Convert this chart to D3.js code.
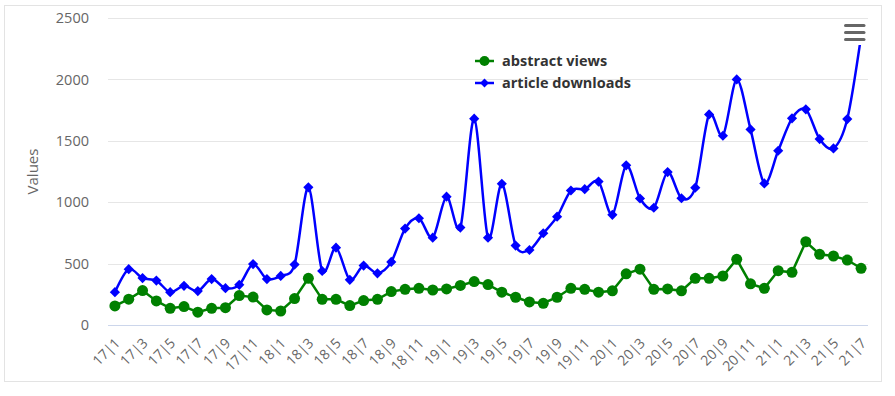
<!DOCTYPE html>
<html>
<head>
<meta charset="utf-8">
<script src="https://cdn.jsdelivr.net/npm/d3@7"></script>
<style>
  body { margin: 0; background: #fff; }
  text { font-family: "Open Sans", sans-serif; }
</style>
</head>
<body>
<div class="container"></div>
<script>
// months 2017-01 .. 2021-07, shown as "yy|m"
const categories = [];
for (let y = 17; y <= 21; y++) {
  for (let m = 1; m <= 12; m++) {
    if (y === 21 && m > 7) break;
    categories.push(y + "|" + m);
  }
}

const abstractViews = [155, 210, 280, 196, 136, 150, 104, 136, 141, 240, 227, 123, 114, 215,
  380, 209, 209, 158, 199, 209, 272, 291, 299, 285, 294, 322, 354, 329,
  267, 226, 188, 177, 226, 299, 291, 267, 278, 417, 455, 291, 294,
  278, 380, 380, 399, 535, 335, 299, 442, 429, 678, 576, 562, 529, 462];

const articleDownloads = [267, 455, 382, 362, 267, 319, 276, 374, 300, 327, 496, 374, 400, 492,
  1121, 440, 630, 368, 484, 421, 514, 785, 869, 711, 1045, 793, 1680, 711,
  1150, 647, 611, 747, 882, 1095, 1106, 1168, 897, 1300, 1030, 955, 1245,
  1032, 1118, 1715, 1541, 2000, 1593, 1153, 1419, 1683, 1756, 1514, 1438, 1677, 2350];

const yTicks = [0, 500, 1000, 1500, 2000, 2500];

const W = 895, H = 396;
const plot = { left: 108, right: 868, top: 18, bottom: 325 };

const svg = d3.select(".container")
  .append("svg")
  .attr("width", W)
  .attr("height", H);

// outer frame
svg.append("rect")
  .attr("x", 4.5).attr("y", 5.5)
  .attr("width", 877).attr("height", 376)
  .attr("fill", "#fff")
  .attr("stroke", "#e3e3e3");

const x = d3.scaleBand().domain(categories).range([plot.left, plot.right]);
const cx = d => x(d) + x.bandwidth() / 2;
const y = d3.scaleLinear().domain([0, 2500]).range([plot.bottom, plot.top]);

// grid
svg.append("g")
  .selectAll("line")
  .data(yTicks.slice(1))
  .enter()
  .append("line")
  .attr("x1", plot.left).attr("x2", plot.right)
  .attr("y1", d => Math.round(y(d)) + 0.5)
  .attr("y2", d => Math.round(y(d)) + 0.5)
  .attr("stroke", "#e6e6e6");

// y axis labels
const yAxis = svg.append("g")
  .attr("transform", "translate(" + (plot.left - 19) + ",0)")
  .call(d3.axisLeft(y).tickValues(yTicks).tickFormat(d3.format("d")).tickSize(0).tickPadding(0));
yAxis.attr("font-family", null).attr("font-size", null);
yAxis.select(".domain").remove();
yAxis.selectAll("text")
  .style("font-size", "14.5px")
  .attr("fill", "#666");

svg.append("text")
  .attr("transform", "translate(38," + ((plot.top + plot.bottom) / 2) + ") rotate(-90)")
  .attr("text-anchor", "middle")
  .style("font-size", "15px")
  .attr("fill", "#666")
  .text("Values");

// x axis
const xAxis = svg.append("g")
  .attr("transform", "translate(0," + plot.bottom + ")")
  .call(d3.axisBottom(x).tickValues(categories.filter((d, i) => i % 2 === 0)).tickSize(0));
xAxis.attr("font-family", null).attr("font-size", null);
xAxis.select(".domain")
  .attr("stroke", "#ccd6eb")
  .attr("d", "M" + plot.left + ",0.5H" + plot.right);
xAxis.selectAll("text")
  .style("font-size", "14px")
  .attr("fill", "#666")
  .attr("text-anchor", "end")
  .attr("dy", null)
  .attr("y", 0)
  .attr("transform", "translate(6,19) rotate(-45)");

// series
const green = "#008000", blue = "#0000ff";

const lineGreen = d3.line()
  .x((d, i) => cx(categories[i]))
  .y(d => y(d));

const lineBlue = d3.line()
  .x((d, i) => cx(categories[i]))
  .y(d => y(d))
  .curve(d3.curveCardinal.tension(0.1));

svg.append("clipPath").attr("id", "plotclip")
  .append("rect")
  .attr("x", plot.left).attr("y", plot.top)
  .attr("width", plot.right - plot.left).attr("height", plot.bottom - plot.top);

svg.append("path")
  .datum(abstractViews)
  .attr("d", lineGreen)
  .attr("fill", "none")
  .attr("stroke", green)
  .attr("stroke-width", 2.5);

svg.append("path")
  .datum(articleDownloads)
  .attr("d", lineBlue)
  .attr("fill", "none")
  .attr("stroke", blue)
  .attr("stroke-width", 2.5)
  .attr("clip-path", "url(#plotclip)");

svg.append("g")
  .selectAll("circle")
  .data(abstractViews)
  .enter()
  .append("circle")
  .attr("cx", (d, i) => cx(categories[i]))
  .attr("cy", d => y(d))
  .attr("r", 5.5)
  .attr("fill", green);

const diamond = d3.symbol().type(d3.symbolDiamond2).size(66);
svg.append("g")
  .selectAll("path")
  .data(articleDownloads)
  .enter()
  .append("path")
  .attr("d", diamond)
  .attr("transform", (d, i) => "translate(" + cx(categories[i]) + "," + y(d) + ")")
  .attr("fill", blue);

// legend
const legendItems = [
  { name: "abstract views", color: green, shape: "circle" },
  { name: "article downloads", color: blue, shape: "diamond" }
];
const legend = svg.append("g").attr("transform", "translate(475,61)");
legendItems.forEach(function (item, k) {
  const g = legend.append("g").attr("transform", "translate(0," + (k * 22) + ")");
  g.append("line")
    .attr("x1", 0).attr("x2", 19)
    .attr("stroke", item.color).attr("stroke-width", 2.5);
  if (item.shape === "circle") {
    g.append("circle").attr("cx", 9.5).attr("r", 5).attr("fill", item.color);
  } else {
    g.append("path").attr("d", d3.symbol().type(d3.symbolDiamond2).size(50))
      .attr("transform", "translate(9.5,0)").attr("fill", item.color);
  }
  g.append("text")
    .attr("x", 27).attr("y", 0).attr("dy", "0.35em")
    .style("font-size", "14.5px")
    .attr("font-weight", "bold")
    .attr("fill", "#333")
    .text(item.name);
});

// context menu button
const btn = svg.append("g").attr("transform", "translate(838,19)");
btn.append("rect")
  .attr("width", 32).attr("height", 26)
  .attr("fill", "#fff");
[6, 13, 20].forEach(function (dy) {
  btn.append("line")
    .attr("x1", 7.5).attr("x2", 26)
    .attr("y1", dy + 0.5).attr("y2", dy + 0.5)
    .attr("stroke", "#666")
    .attr("stroke-width", 3)
    .attr("stroke-linecap", "round");
});
</script>
</body>
</html>
